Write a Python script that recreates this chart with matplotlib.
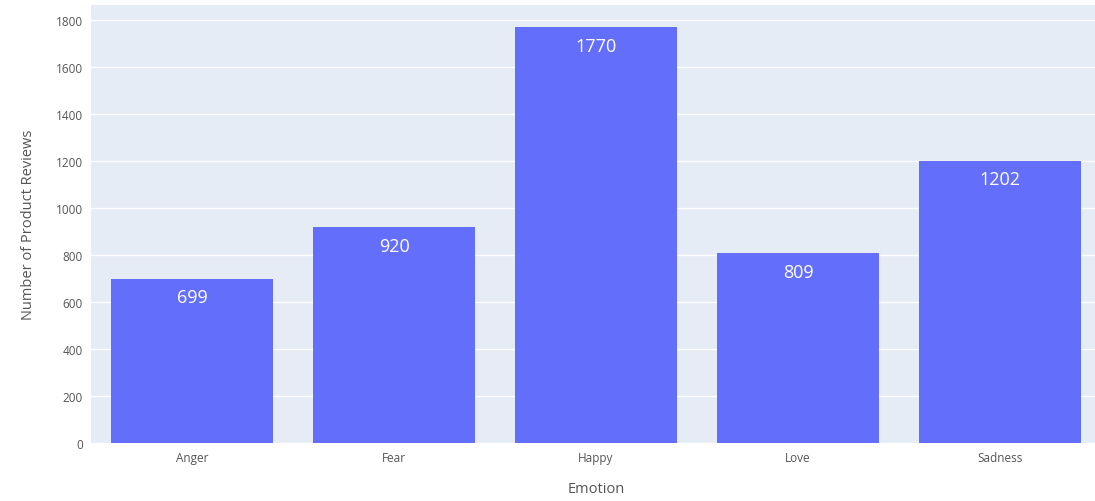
import matplotlib
matplotlib.use("Agg")
import matplotlib.pyplot as plt

# data
emotions = ["Anger", "Fear", "Happy", "Love", "Sadness"]
review_counts = [699, 920, 1770, 809, 1202]
y_ticks = [0, 200, 400, 600, 800, 1000, 1200, 1400, 1600, 1800]

plt.rcParams["font.family"] = ["Open Sans", "DejaVu Sans"]

fig = plt.figure(figsize=(10.95, 5.02), dpi=100)
ax = fig.add_axes([91 / 1095, 58 / 502, 1010 / 1095, 438 / 502])
ax.set_facecolor("#e5ecf6")

x = range(len(emotions))
bars = ax.bar(x, review_counts, width=0.8, color="#636efa", zorder=3)

ymax = max(review_counts) * 1.053
for b, v in zip(bars, review_counts):
    ax.annotate(str(v), (b.get_x() + b.get_width() / 2, v),
                xytext=(0, -7), textcoords="offset points",
                ha="center", va="top", color="white", fontsize=13, zorder=4)

ax.set_xlim(-0.5, len(emotions) - 0.5)
ax.set_ylim(0, ymax)
ax.set_xticks(list(x))
ax.set_xticklabels(emotions)
ax.set_yticks(y_ticks)
ax.grid(axis="y", color="white", linewidth=1, zorder=0)
for s in ax.spines.values():
    s.set_visible(False)
ax.tick_params(length=0, labelsize=8.5, colors="#555555", pad=6)
ax.set_xlabel("Emotion", fontsize=10.5, color="#555555", labelpad=12)
ax.set_ylabel("Number of Product Reviews", fontsize=10.5, color="#555555", labelpad=14)

fig.savefig("out.png", dpi=100)
